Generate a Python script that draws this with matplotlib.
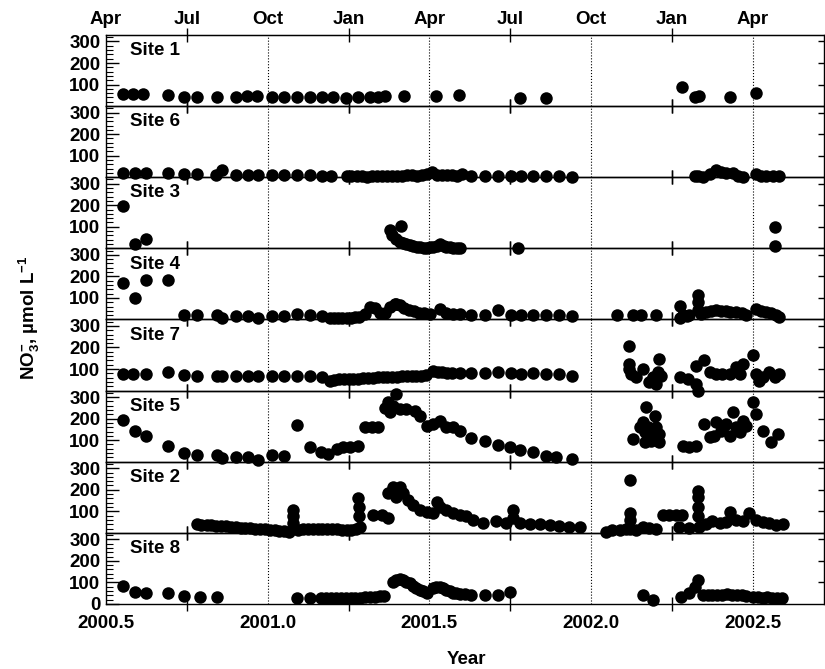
import matplotlib
matplotlib.use("Agg")
import matplotlib.pyplot as plt
from matplotlib.ticker import MultipleLocator, FixedLocator

# --- data (decimal year, NO3- in umol/L) ---
site_names = ["Site 1", "Site 6", "Site 3", "Site 4", "Site 7", "Site 5", "Site 2", "Site 8"]

site1_yr = [2000.552, 2000.582, 2000.613, 2000.692, 2000.740, 2000.780, 2000.842, 2000.902, 2000.935, 2000.966,
            2001.012, 2001.051, 2001.089, 2001.130, 2001.169, 2001.202, 2001.241, 2001.279, 2001.316, 2001.341,
            2001.362, 2001.421, 2001.519, 2001.590, 2001.781, 2001.861, 2002.280, 2002.320, 2002.332, 2002.430,
            2002.510]
site1_no3 = [54, 54, 56, 51, 43, 43, 42, 43, 48, 46, 42, 42, 42, 42, 42, 42, 39, 42, 42, 43,
             46, 48, 46, 50, 39, 39, 87, 43, 46, 40, 62]

site6_yr = [2000.552, 2000.590, 2000.623, 2000.692, 2000.740, 2000.780, 2000.840, 2000.860, 2000.902, 2000.940,
            2000.970, 2001.012, 2001.051, 2001.092, 2001.130, 2001.169, 2001.197,
            2001.244, 2001.259, 2001.275, 2001.290, 2001.306, 2001.321, 2001.337, 2001.352, 2001.368, 2001.383,
            2001.399, 2001.414, 2001.430, 2001.445, 2001.461, 2001.476, 2001.492, 2001.507, 2001.523, 2001.538,
            2001.554, 2001.569, 2001.585, 2001.600,
            2001.630, 2001.671, 2001.712, 2001.753, 2001.784, 2001.820, 2001.861, 2001.900, 2001.940,
            2002.320, 2002.330, 2002.345, 2002.366, 2002.387, 2002.402, 2002.417, 2002.438, 2002.453, 2002.469,
            2002.510, 2002.525, 2002.541, 2002.561, 2002.582]
site6_no3 = [18, 18, 18, 18, 14, 14, 10, 34, 12, 12,
             12, 10, 10, 10, 10, 8, 8,
             5, 4, 6, 5, 3, 5, 6, 5, 7, 6,
             8, 7, 9, 10, 8, 10, 14, 22, 12, 9,
             11, 10, 8, 14,
             8, 6, 6, 4, 6, 4, 4, 4, 2,
             5, 8, 3, 15, 32, 22, 20, 18, 8, 3,
             14, 8, 5, 5, 5]

site3_yr = [2000.552, 2000.590, 2000.623, 2001.377, 2001.383, 2001.398, 2001.411, 2001.408, 2001.417, 2001.429,
            2001.439, 2001.449, 2001.461, 2001.470, 2001.482, 2001.491, 2001.501, 2001.511, 2001.522, 2001.532,
            2001.544, 2001.552, 2001.563, 2001.573, 2001.584, 2001.594, 2001.774, 2002.570, 2002.570]
site3_no3 = [197, 22, 42, 87, 60, 45, 102, 30, 25, 19,
             14, 9, 7, 6, 3, 1, 4, 6, 12, 22,
             10, 6, 4, 3, 3, 3, 2, 99, 9]

site4_yr = [2000.552, 2000.590, 2000.623, 2000.692,
            2000.740, 2000.780, 2000.842, 2000.860, 2000.902, 2000.940, 2000.970, 2001.012, 2001.051, 2001.092,
            2001.130, 2001.169,
            2001.192, 2001.205, 2001.218, 2001.231, 2001.244, 2001.257, 2001.270, 2001.283,
            2001.300, 2001.316, 2001.332, 2001.346, 2001.362, 2001.377, 2001.393, 2001.398, 2001.409, 2001.421,
            2001.437, 2001.452, 2001.468, 2001.484, 2001.501, 2001.532, 2001.552, 2001.573, 2001.594,
            2001.630, 2001.671, 2001.712, 2001.753, 2001.784, 2001.820, 2001.861, 2001.900, 2001.940,
            2002.081, 2002.129, 2002.155, 2002.201,
            2002.275, 2002.275, 2002.285, 2002.295, 2002.304, 2002.330, 2002.330, 2002.330, 2002.340, 2002.356,
            2002.370, 2002.386, 2002.400, 2002.417, 2002.430, 2002.448, 2002.465, 2002.479, 2002.510, 2002.525,
            2002.541, 2002.555, 2002.572, 2002.582]
site4_no3 = [171, 99, 185, 185,
             19, 19, 19, 5, 14, 14, 5, 14, 14, 26,
             19, 14,
             8, 6, 8, 5, 8, 8, 10, 12,
             26, 60, 51, 28, 30, 60, 70, 73, 65, 55,
             45, 38, 32, 28, 26, 50, 30, 26, 26,
             23, 23, 42, 23, 23, 23, 23, 23, 14,
             23, 23, 23, 19,
             62, 8, 20, 15, 19, 112, 81, 42, 25, 34,
             38, 42, 38, 41, 36, 34, 28, 23, 50, 40,
             34, 28, 19, 11]

site7_yr = [2000.552, 2000.582, 2000.623, 2000.692, 2000.740, 2000.780, 2000.842, 2000.860, 2000.902, 2000.940,
            2000.970, 2001.012, 2001.051, 2001.092, 2001.130, 2001.169, 2001.192,
            2001.205, 2001.220, 2001.235, 2001.250, 2001.265, 2001.280, 2001.295, 2001.310, 2001.325, 2001.340,
            2001.355, 2001.370, 2001.385, 2001.400, 2001.415, 2001.430, 2001.445, 2001.460, 2001.475, 2001.490,
            2001.511, 2001.525, 2001.540, 2001.555, 2001.570, 2001.594, 2001.630, 2001.671, 2001.712, 2001.753,
            2001.784, 2001.820, 2001.861, 2001.900, 2001.940,
            2002.117, 2002.117, 2002.117, 2002.124, 2002.139, 2002.160, 2002.180, 2002.191, 2002.201, 2002.206,
            2002.211, 2002.217,
            2002.275, 2002.299, 2002.325, 2002.330, 2002.325, 2002.350, 2002.366, 2002.387, 2002.406, 2002.428,
            2002.448, 2002.469, 2002.459, 2002.500, 2002.510, 2002.520, 2002.531, 2002.551, 2002.567, 2002.582]
site7_no3 = [78, 78, 78, 85, 73, 70, 70, 70, 70, 70,
             70, 70, 70, 70, 70, 62, 46,
             50, 52, 54, 54, 56, 56, 58, 60, 60, 62,
             64, 62, 62, 64, 66, 66, 68, 68, 70, 72,
             93, 88, 85, 82, 82, 82, 80, 80, 85, 80,
             78, 80, 78, 78, 70,
             205, 124, 101, 78, 62, 101, 39, 62, 31, 85,
             147, 70,
             62, 54, 31, 0, 116, 140, 85, 78, 78, 78,
             109, 124, 78, 163, 78, 46, 62, 85, 62, 78]

site5_yr = [2000.552, 2000.590, 2000.623, 2000.692, 2000.740, 2000.780, 2000.842, 2000.860, 2000.902, 2000.940,
            2000.970, 2001.012, 2001.051, 2001.092,
            2001.130, 2001.166, 2001.187, 2001.213, 2001.233, 2001.254, 2001.279, 2001.300, 2001.321, 2001.341,
            2001.362, 2001.372, 2001.377, 2001.387, 2001.398, 2001.408, 2001.429, 2001.454, 2001.470, 2001.491,
            2001.511, 2001.532, 2001.552, 2001.573, 2001.594, 2001.630, 2001.671, 2001.712, 2001.748, 2001.779,
            2001.820, 2001.861, 2001.892, 2001.940,
            2002.170, 2002.196, 2002.160, 2002.150, 2002.176, 2002.201, 2002.129, 2002.165, 2002.186, 2002.211,
            2002.165, 2002.211, 2002.186,
            2002.283, 2002.304, 2002.325, 2002.350, 2002.366, 2002.381, 2002.386, 2002.402, 2002.407, 2002.417,
            2002.428, 2002.438, 2002.448, 2002.459, 2002.469, 2002.479, 2002.500, 2002.510, 2002.531, 2002.556,
            2002.577]
site5_no3 = [195, 141, 121, 74, 39, 33, 33, 17, 20, 23,
             8, 33, 26, 172,
             67, 43, 36, 59, 70, 70, 74, 160, 160, 160,
             250, 276, 229, 260, 315, 245, 245, 237, 214, 167,
             175, 191, 160, 160, 144, 110, 98, 79, 67, 54,
             43, 28, 20, 12,
             252, 214, 183, 160, 160, 160, 106, 136, 129, 129,
             90, 90, 98,
             74, 67, 74, 175, 113, 121, 183, 144, 160, 175,
             121, 229, 160, 136, 191, 167, 276, 221, 144, 90,
             129]

site2_yr = [2000.780, 2000.795, 2000.811, 2000.826, 2000.841, 2000.856, 2000.871, 2000.886, 2000.901, 2000.916,
            2000.931, 2000.946, 2000.961, 2000.976, 2000.991, 2001.006, 2001.021, 2001.036, 2001.051, 2001.066,
            2001.079, 2001.079, 2001.079, 2001.094, 2001.109, 2001.124, 2001.139, 2001.154, 2001.169, 2001.184,
            2001.199, 2001.214, 2001.229, 2001.244, 2001.259, 2001.274, 2001.279, 2001.281, 2001.283, 2001.285,
            2001.326, 2001.352, 2001.372, 2001.372, 2001.387, 2001.408, 2001.398, 2001.418, 2001.434, 2001.449,
            2001.470, 2001.491, 2001.511, 2001.522, 2001.532, 2001.552, 2001.573, 2001.594, 2001.614, 2001.635,
            2001.665, 2001.707, 2001.738, 2001.758, 2001.758, 2001.779, 2001.810, 2001.841, 2001.872, 2001.902,
            2001.933, 2001.964,
            2002.047, 2002.066, 2002.088, 2002.109, 2002.119, 2002.119, 2002.119, 2002.119, 2002.140, 2002.159,
            2002.180, 2002.201, 2002.221, 2002.242, 2002.263, 2002.282, 2002.273, 2002.304, 2002.330, 2002.330,
            2002.330, 2002.330, 2002.335, 2002.355, 2002.375, 2002.397, 2002.417, 2002.428, 2002.448, 2002.469,
            2002.489, 2002.510, 2002.531, 2002.551, 2002.572, 2002.592]
site2_no3 = [40, 38, 38, 36, 34, 32, 30, 28, 26, 24,
             22, 22, 20, 18, 16, 14, 12, 10, 8, 6,
             107, 76, 45, 14, 18, 18, 20, 20, 18, 16,
             16, 16, 14, 12, 14, 18, 161, 122, 76, 29,
             84, 84, 68, 184, 215, 215, 168, 184, 153, 130,
             107, 99, 91, 145, 122, 107, 91, 84, 76, 60,
             45, 53, 45, 107, 68, 45, 40, 40, 35, 30,
             29, 29,
             6, 14, 14, 18, 246, 94, 60, 20, 14, 25,
             22, 18, 84, 84, 84, 84, 29, 22, 192, 168,
             122, 76, 29, 40, 55, 45, 50, 99, 60, 55,
             94, 60, 50, 45, 37, 40]

site8_yr = [2000.552, 2000.590, 2000.623, 2000.692, 2000.740, 2000.790, 2000.842,
            2001.092, 2001.130, 2001.166, 2001.181, 2001.196, 2001.211, 2001.226, 2001.241, 2001.256, 2001.271,
            2001.286, 2001.301, 2001.316, 2001.331, 2001.346, 2001.361,
            2001.387, 2001.397, 2001.408, 2001.418, 2001.429, 2001.439, 2001.449, 2001.460, 2001.470, 2001.480,
            2001.491, 2001.511, 2001.521, 2001.532, 2001.542, 2001.552, 2001.563, 2001.573, 2001.583, 2001.594,
            2001.610, 2001.630, 2001.671, 2001.712, 2001.750,
            2002.160, 2002.191, 2002.278, 2002.304, 2002.320, 2002.330, 2002.345, 2002.360, 2002.375, 2002.390,
            2002.405, 2002.420, 2002.435, 2002.450, 2002.465, 2002.480, 2002.500, 2002.515, 2002.530, 2002.545,
            2002.560, 2002.575, 2002.590]
site8_no3 = [84, 57, 50, 53, 37, 34, 34,
             26, 26, 28, 26, 28, 26, 26, 28, 28, 30,
             30, 32, 34, 34, 36, 38,
             104, 110, 115, 112, 104, 95, 84, 72, 65, 58,
             53, 73, 78, 81, 72, 65, 60, 53, 50, 47,
             44, 42, 42, 42, 57,
             42, 19, 34, 50, 81, 112, 42, 40, 42, 40,
             42, 44, 42, 40, 42, 38, 34, 34, 30, 32,
             30, 30, 30]

site_years = [site1_yr, site6_yr, site3_yr, site4_yr, site7_yr, site5_yr, site2_yr, site8_yr]
site_no3 = [site1_no3, site6_no3, site3_no3, site4_no3, site7_no3, site5_no3, site2_no3, site8_no3]

year_ticks = [2000.5, 2001.0, 2001.5, 2002.0, 2002.5]
year_labels = ["2000.5", "2001.0", "2001.5", "2002.0", "2002.5"]
season_ticks = [2000.75, 2001.25, 2001.75, 2002.25]
month_ticks = [2000.5, 2000.75, 2001.0, 2001.25, 2001.5, 2001.75, 2002.0, 2002.25, 2002.5]
month_labels = ["Apr", "Jul", "Oct", "Jan", "Apr", "Jul", "Oct", "Jan", "Apr"]

# --- fonts ---
plt.rcParams['font.family'] = ['Liberation Sans', 'DejaVu Sans']
plt.rcParams['font.weight'] = 'bold'
plt.rcParams['mathtext.fontset'] = 'custom'
plt.rcParams['mathtext.rm'] = 'Liberation Sans:bold'
plt.rcParams['mathtext.it'] = 'Liberation Sans:bold'
plt.rcParams['mathtext.bf'] = 'Liberation Sans:bold'

FS = 13.5

fig = plt.figure(figsize=(8.25, 6.69), dpi=100)
axes = fig.subplots(8, 1, sharex=True, gridspec_kw={'hspace': 0})
fig.subplots_adjust(left=0.1285, right=0.9988, top=0.9477, bottom=0.0972)

for i, ax in enumerate(axes):
    ax.patch.set_visible(False)

    # dotted lines at Oct / Apr
    for xv in year_ticks[1:]:
        ax.axvline(xv, color='black', linestyle=':', linewidth=0.8, zorder=1)

    ax.plot(site_years[i], site_no3[i], 'o', color='black', markersize=9, markeredgewidth=0,
            clip_on=False, zorder=3)

    ax.set_ylim(0, 330)
    if i == len(axes) - 1:
        ax.set_yticks([0, 100, 200, 300])
    else:
        ax.set_yticks([100, 200, 300])
    ax.yaxis.set_minor_locator(MultipleLocator(20))
    ax.tick_params(axis='y', which='major', direction='in', length=9, width=1,
                   labelsize=FS, pad=4, left=True, right=False)
    ax.tick_params(axis='y', which='minor', direction='in', length=5, width=0.8,
                   left=True, right=False)

    # short ticks on the right side
    sec = ax.secondary_yaxis('right')
    sec.set_yticks([100, 200, 300])
    sec.set_yticklabels([])
    sec.tick_params(direction='in', length=4, width=1)
    sec.spines['right'].set_visible(False)

    ax.xaxis.set_major_locator(FixedLocator(year_ticks))
    ax.xaxis.set_minor_locator(FixedLocator(season_ticks))
    ax.tick_params(axis='x', which='major', length=0, labelsize=FS, pad=8)
    ax.tick_params(axis='x', which='minor', direction='inout', length=10, width=1,
                   top=True, bottom=True)

    for sp in ax.spines.values():
        sp.set_linewidth(1.0)

    ax.text(0.033, 0.78, site_names[i], transform=ax.transAxes, fontsize=FS,
            fontweight='bold', va='center', ha='left')

axes[-1].set_xlim(2000.5, 2002.72)
axes[-1].set_xticklabels(year_labels)

# month labels along the top
top = axes[0].secondary_xaxis('top')
top.set_xticks(month_ticks)
top.set_xticklabels(month_labels)
top.tick_params(length=0, labelsize=FS, pad=5)

fig.text(0.036, 0.525, r"NO$_{3}^{-}$, µmol L$^{-1}$", rotation=90, fontsize=FS,
         fontweight='bold', ha='center', va='center')
fig.text(0.565, 0.014, "Year", fontsize=FS, fontweight='bold', ha='center', va='center')

plt.savefig("out.png", dpi=100)
plt.close()
